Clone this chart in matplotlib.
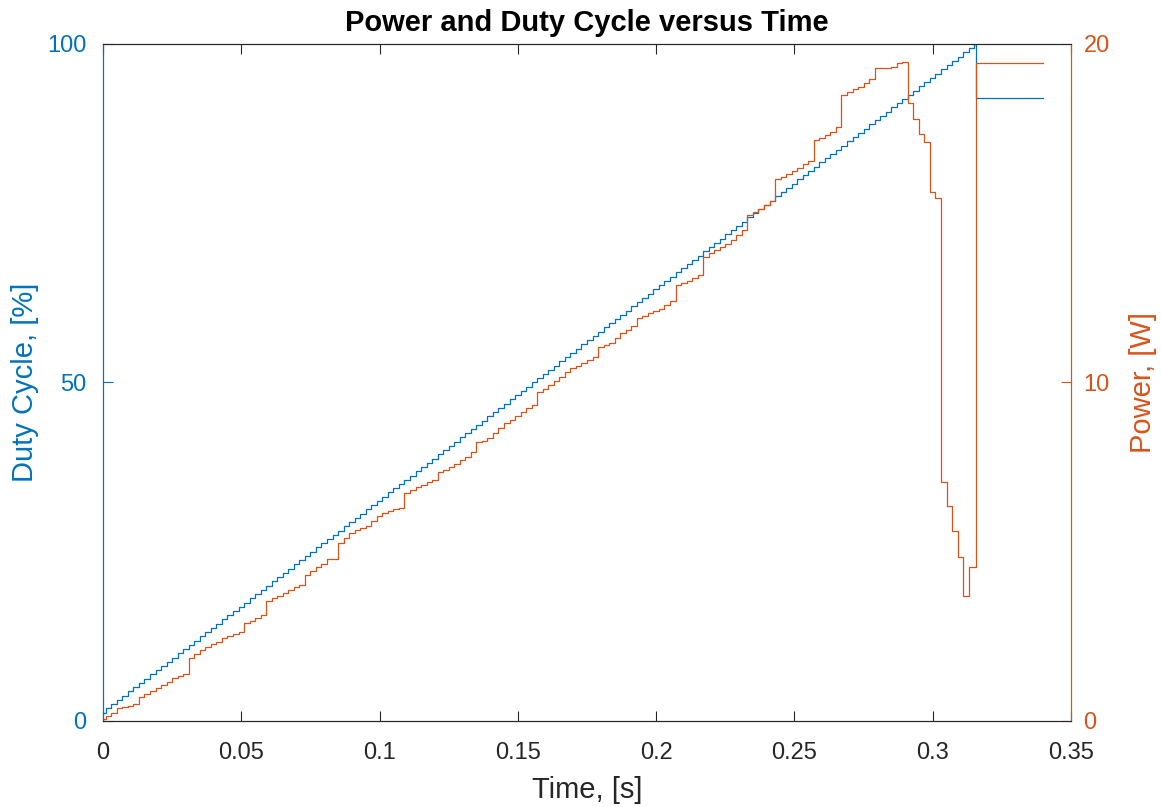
import numpy as np
import matplotlib
matplotlib.use('Agg')
import matplotlib.pyplot as plt

plt.rcParams['font.family'] = ['Liberation Sans', 'DejaVu Sans']

# step grid: first change at 1 ms, then every 2 ms
first_step = 0.001
step_period = 0.002

duty = [
    1.25, 1.875, 2.5, 3.125, 3.75, 4.375, 5.0, 5.625, 6.25, 6.875,
    7.5, 8.125, 8.75, 9.375, 10.0, 10.625, 11.25, 11.875, 12.5, 13.125,
    13.75, 14.375, 15.0, 15.625, 16.25, 16.875, 17.5, 18.125, 18.75, 19.375,
    20.0, 20.625, 21.25, 21.875, 22.5, 23.125, 23.75, 24.375, 25.0, 25.625,
    26.25, 26.875, 27.5, 28.125, 28.75, 29.375, 30.0, 30.625, 31.25, 31.875,
    32.5, 33.125, 33.75, 34.375, 35.0, 35.625, 36.25, 36.875, 37.5, 38.125,
    38.75, 39.375, 40.0, 40.625, 41.25, 41.875, 42.5, 43.125, 43.75, 44.375,
    45.0, 45.625, 46.25, 46.875, 47.5, 48.125, 48.75, 49.375, 50.0, 50.625,
    51.25, 51.875, 52.5, 53.125, 53.75, 54.375, 55.0, 55.625, 56.25, 56.875,
    57.5, 58.125, 58.75, 59.375, 60.0, 60.625, 61.25, 61.875, 62.5, 63.125,
    63.75, 64.375, 65.0, 65.625, 66.25, 66.875, 67.5, 68.125, 68.75, 69.375,
    70.0, 70.625, 71.25, 71.875, 72.5, 73.125, 73.75, 74.375, 75.0, 75.625,
    76.25, 76.875, 77.5, 78.125, 78.75, 79.375, 80.0, 80.625, 81.25, 81.875,
    82.5, 83.125, 83.75, 84.375, 85.0, 85.625, 86.25, 86.875, 87.5, 88.125,
    88.75, 89.375, 90.0, 90.625, 91.25, 91.875, 92.5, 93.125, 93.75, 94.375,
    95.0, 95.625, 96.25, 96.875, 97.5, 98.125, 98.75, 99.375, 100.0,
]

power = [
    0.05, 0.15, 0.25, 0.37, 0.40, 0.44, 0.50, 0.72, 0.80, 0.90,
    0.97, 1.05, 1.15, 1.26, 1.32, 1.40, 1.85, 1.98, 2.10, 2.20,
    2.27, 2.34, 2.44, 2.50, 2.56, 2.64, 2.90, 2.95, 3.05, 3.13,
    3.55, 3.62, 3.70, 3.78, 3.87, 3.95, 4.02, 4.31, 4.42, 4.55,
    4.65, 4.78, 4.78, 5.27, 5.42, 5.54, 5.63, 5.69, 5.76, 5.92,
    6.05, 6.14, 6.19, 6.25, 6.30, 6.73, 6.82, 6.90, 6.97, 7.05,
    7.12, 7.36, 7.42, 7.51, 7.60, 7.71, 7.81, 7.96, 8.25, 8.28,
    8.35, 8.50, 8.65, 8.81, 8.88, 9.00, 9.12, 9.25, 9.33, 9.72,
    9.80, 9.92, 10.05, 10.15, 10.30, 10.42, 10.50, 10.58, 10.66, 10.76,
    11.06, 11.11, 11.18, 11.30, 11.45, 11.55, 11.68, 11.90, 11.95, 12.05,
    12.10, 12.18, 12.30, 12.42, 12.88, 12.93, 13.00, 13.08, 13.18, 13.72,
    13.82, 13.90, 14.00, 14.10, 14.20, 14.35, 14.50, 14.95, 15.05, 15.12,
    15.25, 15.35, 16.00, 16.08, 16.15, 16.25, 16.35, 16.45, 16.55, 17.15,
    17.22, 17.30, 17.40, 17.55, 18.50, 18.58, 18.67, 18.74, 18.84, 18.97,
    19.28, 19.30, 19.30, 19.33, 19.45, 19.48, 18.25, 17.78, 17.33, 17.11,
    15.64, 15.46, 7.05, 6.35, 5.61, 4.85, 3.70, 4.56, 4.56,
]

# hold values after the ramp ends
tail_start = 0.3158
tail_end = 0.34
duty_tail = 92.0
power_tail = 19.45

time = np.concatenate([[0.0], first_step + step_period * np.arange(len(duty) - 1)])
t_all = np.concatenate([time, [tail_start, tail_end]])
d_all = duty + [duty_tail, duty_tail]
p_all = power + [power_tail, power_tail]

blue = '#0072BD'
orange = '#D95319'
grey = '#262626'

fig = plt.figure(figsize=(11.61, 8.07), dpi=100)
ax = fig.add_axes([0.0887, 0.1066, 0.8338, 0.8389])
ax2 = ax.twinx()

ax.plot(t_all, d_all, color=blue, lw=0.9, drawstyle='steps-post')
ax2.plot(t_all, p_all, color=orange, lw=0.9, drawstyle='steps-post')

ax.set_xlim(0, 0.35)
ax.set_ylim(0, 100)
ax2.set_ylim(0, 20)
ax.set_xticks([0, 0.05, 0.1, 0.15, 0.2, 0.25, 0.3, 0.35])
ax.set_xticklabels(['0', '0.05', '0.1', '0.15', '0.2', '0.25', '0.3', '0.35'])
ax.set_yticks([0, 50, 100])
ax2.set_yticks([0, 10, 20])

ax.tick_params(axis='x', direction='in', length=7, width=0.8, colors=grey,
               labelsize=17, top=True, pad=15)
ax.tick_params(axis='y', direction='in', length=7, width=0.8, colors=blue,
               labelsize=17, pad=12)
ax2.tick_params(axis='y', direction='in', length=7, width=0.8, colors=orange,
                labelsize=17, pad=9)

for a in (ax, ax2):
    a.spines['top'].set_color(grey)
    a.spines['bottom'].set_color(grey)
    a.spines['left'].set_color(blue)
    a.spines['right'].set_color(orange)
    for s in a.spines.values():
        s.set_linewidth(0.8)

ax.set_xlabel('Time, [s]', fontsize=21, color=grey, labelpad=9)
ax.set_ylabel('Duty Cycle, [%]', fontsize=21, color=blue, labelpad=6)
ax2.set_ylabel('Power, [W]', fontsize=21, color=orange, labelpad=14)
ax.set_title('Power and Duty Cycle versus Time', fontsize=21, fontweight='bold', pad=9)

fig.savefig('out.png', dpi=100)
